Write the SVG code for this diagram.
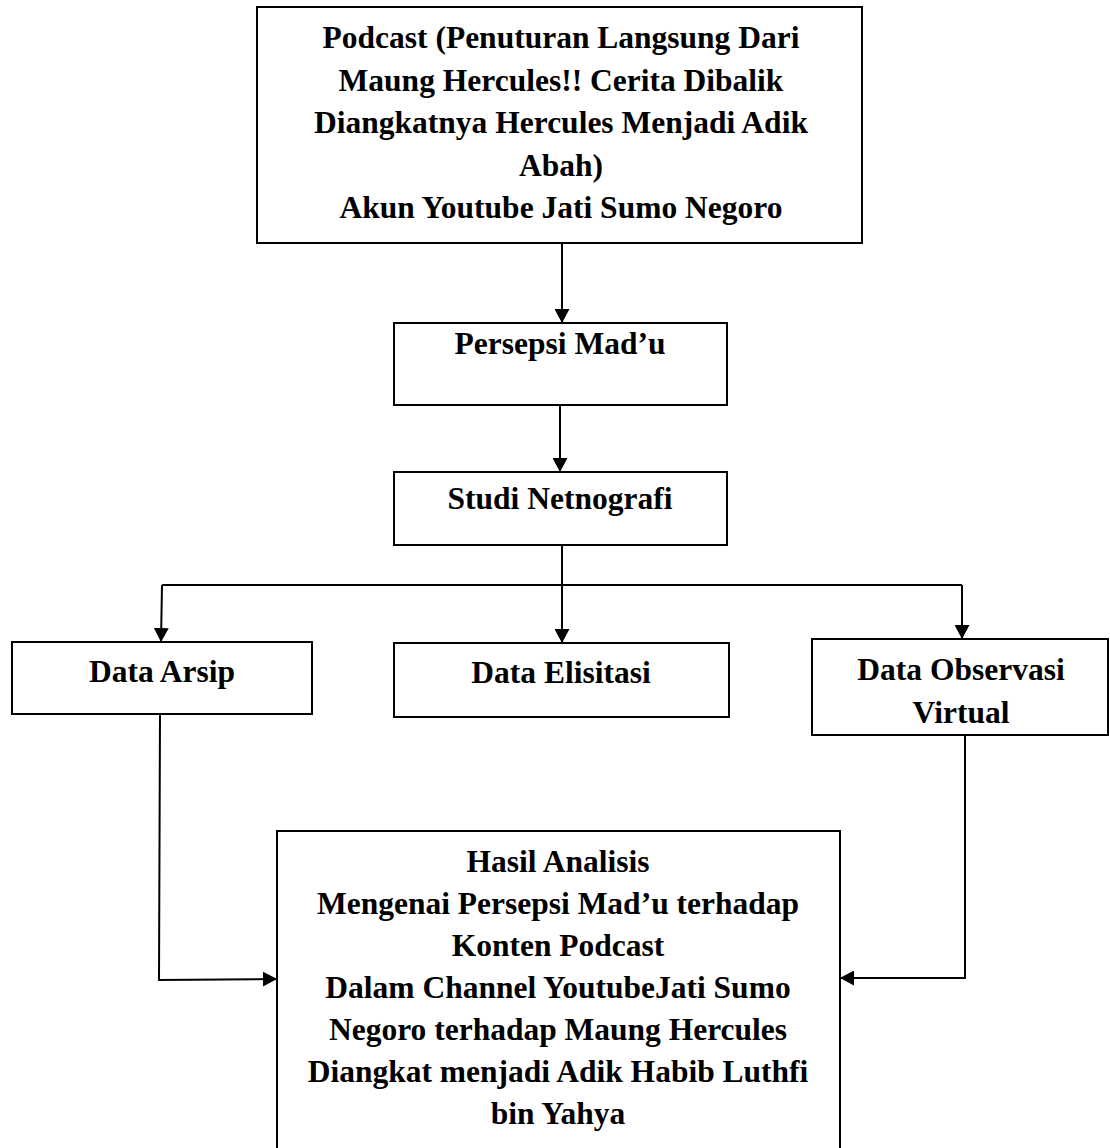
<svg xmlns="http://www.w3.org/2000/svg" width="1110" height="1148" viewBox="0 0 1110 1148">
  <style>
    .box { fill: #ffffff; stroke: #000000; stroke-width: 2; }
    .lbl { font-family: "Liberation Serif", "Times New Roman", serif; font-weight: bold; font-size: 31.5px; fill: #000000; text-anchor: middle; }
    .conn { fill: none; stroke: #000000; stroke-width: 2; }
  </style>
  <defs>
    <marker id="arrow" markerUnits="userSpaceOnUse" markerWidth="14" markerHeight="15" refX="14" refY="7.5" orient="auto">
      <path d="M0,0 L14,7.5 L0,15 Z" fill="#000000"/>
    </marker>
  </defs>
  <rect width="1110" height="1148" fill="#ffffff"/>

  <g id="connectors">
    <path class="conn" d="M562,243 L562,323" marker-end="url(#arrow)"/>
    <path class="conn" d="M560,405 L560,472" marker-end="url(#arrow)"/>
    <path class="conn" d="M562,545 L562,643" marker-end="url(#arrow)"/>
    <path class="conn" d="M162,585 L962,585"/>
    <path class="conn" d="M162,585 L161,642" marker-end="url(#arrow)"/>
    <path class="conn" d="M962,585 L962,639" marker-end="url(#arrow)"/>
    <path class="conn" d="M160,714 L159,980 L277,979" marker-end="url(#arrow)"/>
    <path class="conn" d="M965,735 L965,978 L840,978" marker-end="url(#arrow)"/>
  </g>

  <g id="node-podcast">
    <rect class="box" x="257" y="7" width="605" height="236"/>
    <text class="lbl" x="561" y="48">Podcast (Penuturan Langsung Dari</text>
    <text class="lbl" x="561" y="90.5">Maung Hercules!! Cerita Dibalik</text>
    <text class="lbl" x="561" y="133">Diangkatnya Hercules Menjadi Adik</text>
    <text class="lbl" x="561" y="175.5">Abah)</text>
    <text class="lbl" x="561" y="218">Akun Youtube Jati Sumo Negoro</text>
  </g>

  <g id="node-persepsi">
    <rect class="box" x="394" y="323" width="333" height="82"/>
    <text class="lbl" x="560" y="354">Persepsi Mad’u</text>
  </g>

  <g id="node-studi">
    <rect class="box" x="394" y="472" width="333" height="73"/>
    <text class="lbl" x="560" y="509">Studi Netnografi</text>
  </g>

  <g id="node-arsip">
    <rect class="box" x="12" y="642" width="300" height="72"/>
    <text class="lbl" x="162" y="682">Data Arsip</text>
  </g>

  <g id="node-elisitasi">
    <rect class="box" x="394" y="643" width="335" height="74"/>
    <text class="lbl" x="561" y="683">Data Elisitasi</text>
  </g>

  <g id="node-observasi">
    <rect class="box" x="812" y="639" width="296" height="96"/>
    <text class="lbl" x="961" y="680">Data Observasi</text>
    <text class="lbl" x="961" y="723">Virtual</text>
  </g>

  <g id="node-hasil">
    <rect class="box" x="277" y="831" width="563" height="340"/>
    <text class="lbl" x="558" y="872">Hasil Analisis</text>
    <text class="lbl" x="558" y="914">Mengenai Persepsi Mad’u terhadap</text>
    <text class="lbl" x="558" y="956">Konten Podcast</text>
    <text class="lbl" x="558" y="998">Dalam Channel YoutubeJati Sumo</text>
    <text class="lbl" x="558" y="1040">Negoro terhadap Maung Hercules</text>
    <text class="lbl" x="558" y="1082">Diangkat menjadi Adik Habib Luthfi</text>
    <text class="lbl" x="558" y="1124">bin Yahya</text>
  </g>
</svg>
